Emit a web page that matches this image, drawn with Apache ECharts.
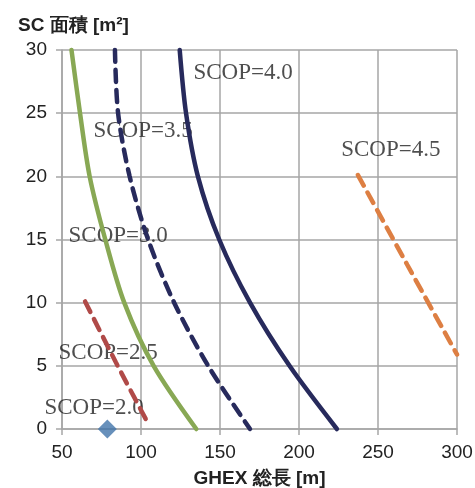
<!DOCTYPE html>
<html>
<head>
<meta charset="utf-8">
<script src="https://cdn.jsdelivr.net/npm/echarts@6/dist/echarts.min.js"></script>
<style>
html, body { margin: 0; padding: 0; background: #fff; }
#chart { width: 475px; height: 488px; }
</style>
</head>
<body>
<div id="chart"></div>
<script>
// [GHEX length, SC area]
var scop20 = [[78.7, 0]];
var scop25 = [[64.6, 10.1], [84, 5.3], [103.8, 0.6]];
var scop30 = [[56, 30], [61.4, 25], [67.5, 20], [77.4, 15], [89.4, 10], [108, 5], [135, 0]];
var scop35 = [[83.5, 30], [85.5, 25], [92.8, 20], [104.5, 15], [121, 10], [142.5, 5], [169, 0]];
var scop40 = [[124.5, 30], [128.5, 25], [136, 20], [149.5, 15], [169, 10], [194, 5], [224, 0]];
var scop45 = [[237.3, 20.1], [268.5, 13], [300, 5.9]];

// label anchors (left edge, vertical middle)
var labelPos = [
    [38.6, 1.7, 'SCOP=2.0'],
    [47.5, 6.0, 'SCOP=2.5'],
    [53.8, 15.3, 'SCOP=3.0'],
    [69.6, 23.6, 'SCOP=3.5'],
    [132.9, 28.2, 'SCOP=4.0'],
    [226.4, 22.1, 'SCOP=4.5']
];

var gridColor = '#a6a6a6';

function lineSeries(data, color, dashed) {
    return {
        type: 'line',
        data: data,
        smooth: 0.3,
        showSymbol: false,
        clip: false,
        lineStyle: {
            color: color,
            width: 4.5,
            type: dashed ? [12, 8] : 'solid',
            cap: 'round'
        }
    };
}

var chart = echarts.init(document.getElementById('chart'));
chart.setOption({
    animation: false,
    title: {
        text: 'SC 面積 [m²]',
        left: 13,
        top: 11,
        textStyle: {
            fontFamily: 'Liberation Sans',
            fontSize: 19,
            fontWeight: 'bold',
            color: '#222'
        }
    },
    grid: {
        left: 62,
        right: 18,
        top: 50,
        bottom: 59,
        containLabel: false,
        outerBoundsMode: 'none'
    },
    xAxis: {
        type: 'value',
        min: 50,
        max: 300,
        interval: 50,
        name: 'GHEX 総長 [m]',
        nameLocation: 'middle',
        nameGap: 40,
        nameTextStyle: {
            fontFamily: 'Liberation Sans',
            fontSize: 19,
            fontWeight: 'bold',
            color: '#222'
        },
        axisLine: { lineStyle: { color: gridColor, width: 1.5 } },
        axisTick: { show: true, length: 6, lineStyle: { color: gridColor, width: 1.5 } },
        splitLine: { show: true, lineStyle: { color: gridColor, width: 1.5 } },
        axisLabel: {
            fontFamily: 'Liberation Sans',
            fontSize: 19,
            color: '#222',
            margin: 14
        }
    },
    yAxis: {
        type: 'value',
        min: 0,
        max: 30,
        interval: 5,
        axisLine: { show: true, lineStyle: { color: gridColor, width: 1.5 } },
        axisTick: { show: true, length: 6, lineStyle: { color: gridColor, width: 1.5 } },
        splitLine: { show: true, lineStyle: { color: gridColor, width: 1.5 } },
        axisLabel: {
            fontFamily: 'Liberation Sans',
            fontSize: 19,
            color: '#222',
            margin: 15
        }
    },
    series: [
        lineSeries(scop45, '#dd7f43', true),
        lineSeries(scop40, '#272a5c', false),
        lineSeries(scop35, '#272a5c', true),
        lineSeries(scop30, '#88a854', false),
        lineSeries(scop25, '#b04a48', true),
        {
            type: 'scatter',
            data: scop20,
            symbol: 'diamond',
            symbolSize: 19,
            clip: false,
            itemStyle: { color: '#4174aa' }
        },
        {
            type: 'scatter',
            data: labelPos,
            symbolSize: 1,
            clip: false,
            silent: true,
            itemStyle: { color: 'rgba(0,0,0,0)' },
            label: {
                show: true,
                position: 'right',
                distance: 0,
                formatter: function(p) { return p.value[2]; },
                fontFamily: 'Liberation Serif',
                fontSize: 23,
                color: '#222'
            }
        }
    ]
});
</script>
</body>
</html>
